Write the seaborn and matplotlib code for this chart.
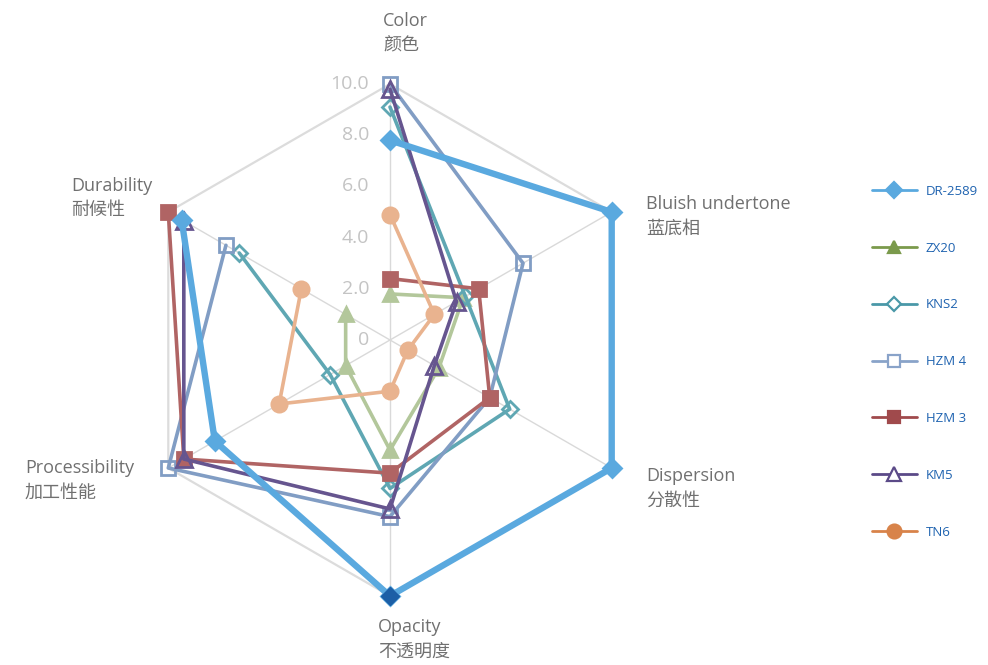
import numpy as np
import pandas as pd
import matplotlib
matplotlib.use("Agg")
import matplotlib.pyplot as plt
import matplotlib.transforms as mtransforms
from matplotlib.lines import Line2D
import seaborn as sns

# axes (clockwise from top)
categories = ["Color\n颜色", "Bluish undertone\n蓝底相", "Dispersion\n分散性",
              "Opacity\n不透明度", "Processibility\n加工性能", "Durability\n耐候性"]

# scores
dr2589 = [7.8, 10.0, 10.0, 10.0, 7.9, 9.4]
zx20 = [1.8, 3.3, 2.2, 4.3, 2.0, 2.0]
kns2 = [9.1, 3.4, 5.4, 5.8, 2.7, 6.8]
hzm4 = [10.0, 6.0, 4.5, 6.9, 10.0, 7.4]
hzm3 = [2.4, 4.0, 4.5, 5.2, 9.3, 10.0]
km5 = [9.8, 3.0, 2.0, 6.6, 9.3, 9.3]
tn6 = [4.9, 2.0, 0.8, 2.0, 5.0, 4.0]

series_names = ["DR-2589", "ZX20", "KNS2", "HZM 4", "HZM 3", "KM5", "TN6"]
series_values = [dr2589, zx20, kns2, hzm4, hzm3, km5, tn6]

tick_values = [0, 2, 4, 6, 8, 10]
tick_labels = ["0", "2.0", "4.0", "6.0", "8.0", "10.0"]

# styles: (plot colour, legend colour, marker, size, filled, linewidth)
styles = {
    "DR-2589": ("#5aa9df", "#5aa9df", "D", 9, True, 4.6),
    "ZX20": ("#b3c79b", "#7b9a4c", "^", 10, True, 2.6),
    "KNS2": ("#5fa7b3", "#4a98a8", "D", 8, False, 2.6),
    "HZM 4": ("#819dc4", "#89a3c9", "s", 10, False, 2.6),
    "HZM 3": ("#b06464", "#a04a4c", "s", 10, True, 2.6),
    "KM5": ("#66558f", "#5b4a88", "^", 11, False, 2.6),
    "TN6": ("#e9b38f", "#d8834a", "o", 11, True, 2.6),
}

sns.set_theme(style="white")
plt.rcParams["font.family"] = ["Open Sans", "Noto Sans CJK SC", "DejaVu Sans"]

fig = plt.figure(figsize=(9.88, 6.65), dpi=100)
ax = fig.add_axes([134 / 988, 69 / 665, 512 / 988, 512 / 665], projection="polar")
ax.set_theta_offset(np.pi / 2)
ax.set_theta_direction(-1)
ax.set_ylim(0, 10)
ax.grid(False)
ax.spines["polar"].set_visible(False)
ax.set_xticks([])
ax.set_yticks([])
ax.set_facecolor("none")

n = len(categories)
angles = np.linspace(0, 2 * np.pi, n, endpoint=False)
closed = np.append(angles, angles[0])

# hexagon frame and spokes
ax.plot(closed, [10] * (n + 1), color="#dcdcdc", lw=1.6, zorder=1, clip_on=False)
for a in angles:
    ax.plot([a, a], [0, 10], color="#d9d9d9", lw=1.0, zorder=1)

# radial tick labels
off = mtransforms.offset_copy(ax.transData, fig=fig, x=-15, y=0, units="points")
for v, lab in zip(tick_values, tick_labels):
    ax.text(0, v, lab, transform=off, ha="right", va="center",
            fontsize=14, color="#c4c4c4")

# draw series (DR-2589 last so it sits on top)
order = list(range(1, len(series_names))) + [0]
for i in order:
    name = series_names[i]
    vals = series_values[i]
    col, _, mk, ms, filled, lw = styles[name]
    df = pd.DataFrame({"theta": closed, "r": vals + [vals[0]]})
    sns.lineplot(data=df, x="theta", y="r", sort=False, ax=ax, color=col, lw=lw,
                 marker=mk, markersize=ms, markeredgewidth=2,
                 markerfacecolor=col if filled else "none", markeredgecolor=col,
                 clip_on=False, zorder=5 if name == "DR-2589" else 3)
# highlighted opacity point for DR-2589
ax.plot([angles[3]], [dr2589[3]], marker="D", markersize=9, color="#1c5fa6",
        zorder=6, ls="none", clip_on=False)
ax.set_xlabel("")
ax.set_ylabel("")

# category labels
label_pos = [(383, 22), (646, 205), (646, 477), (378, 628), (25, 469), (71, 187)]
for lab, (px, py) in zip(categories, label_pos):
    fig.text(px / 988, 1 - (py - 10) / 665, lab, ha="left", va="top",
             fontsize=13, color="#707070", linespacing=1.45)

# legend
handles = []
for name in series_names:
    _, lc, mk, ms, filled, _ = styles[name]
    handles.append(Line2D([0], [0], color=lc, lw=2, marker=mk, markersize=ms - 1,
                          markeredgewidth=1.6,
                          markerfacecolor=lc if filled else "white",
                          markeredgecolor=lc))
leg = fig.legend(handles, series_names, loc="upper left",
                 bbox_to_anchor=(860 / 988, 1 - 173 / 665), frameon=False,
                 fontsize=9.5, labelspacing=3.32, handlelength=3.4,
                 handletextpad=0.7)
for t in leg.get_texts():
    t.set_color("#1f63b0")

fig.savefig("out.png", dpi=100)
